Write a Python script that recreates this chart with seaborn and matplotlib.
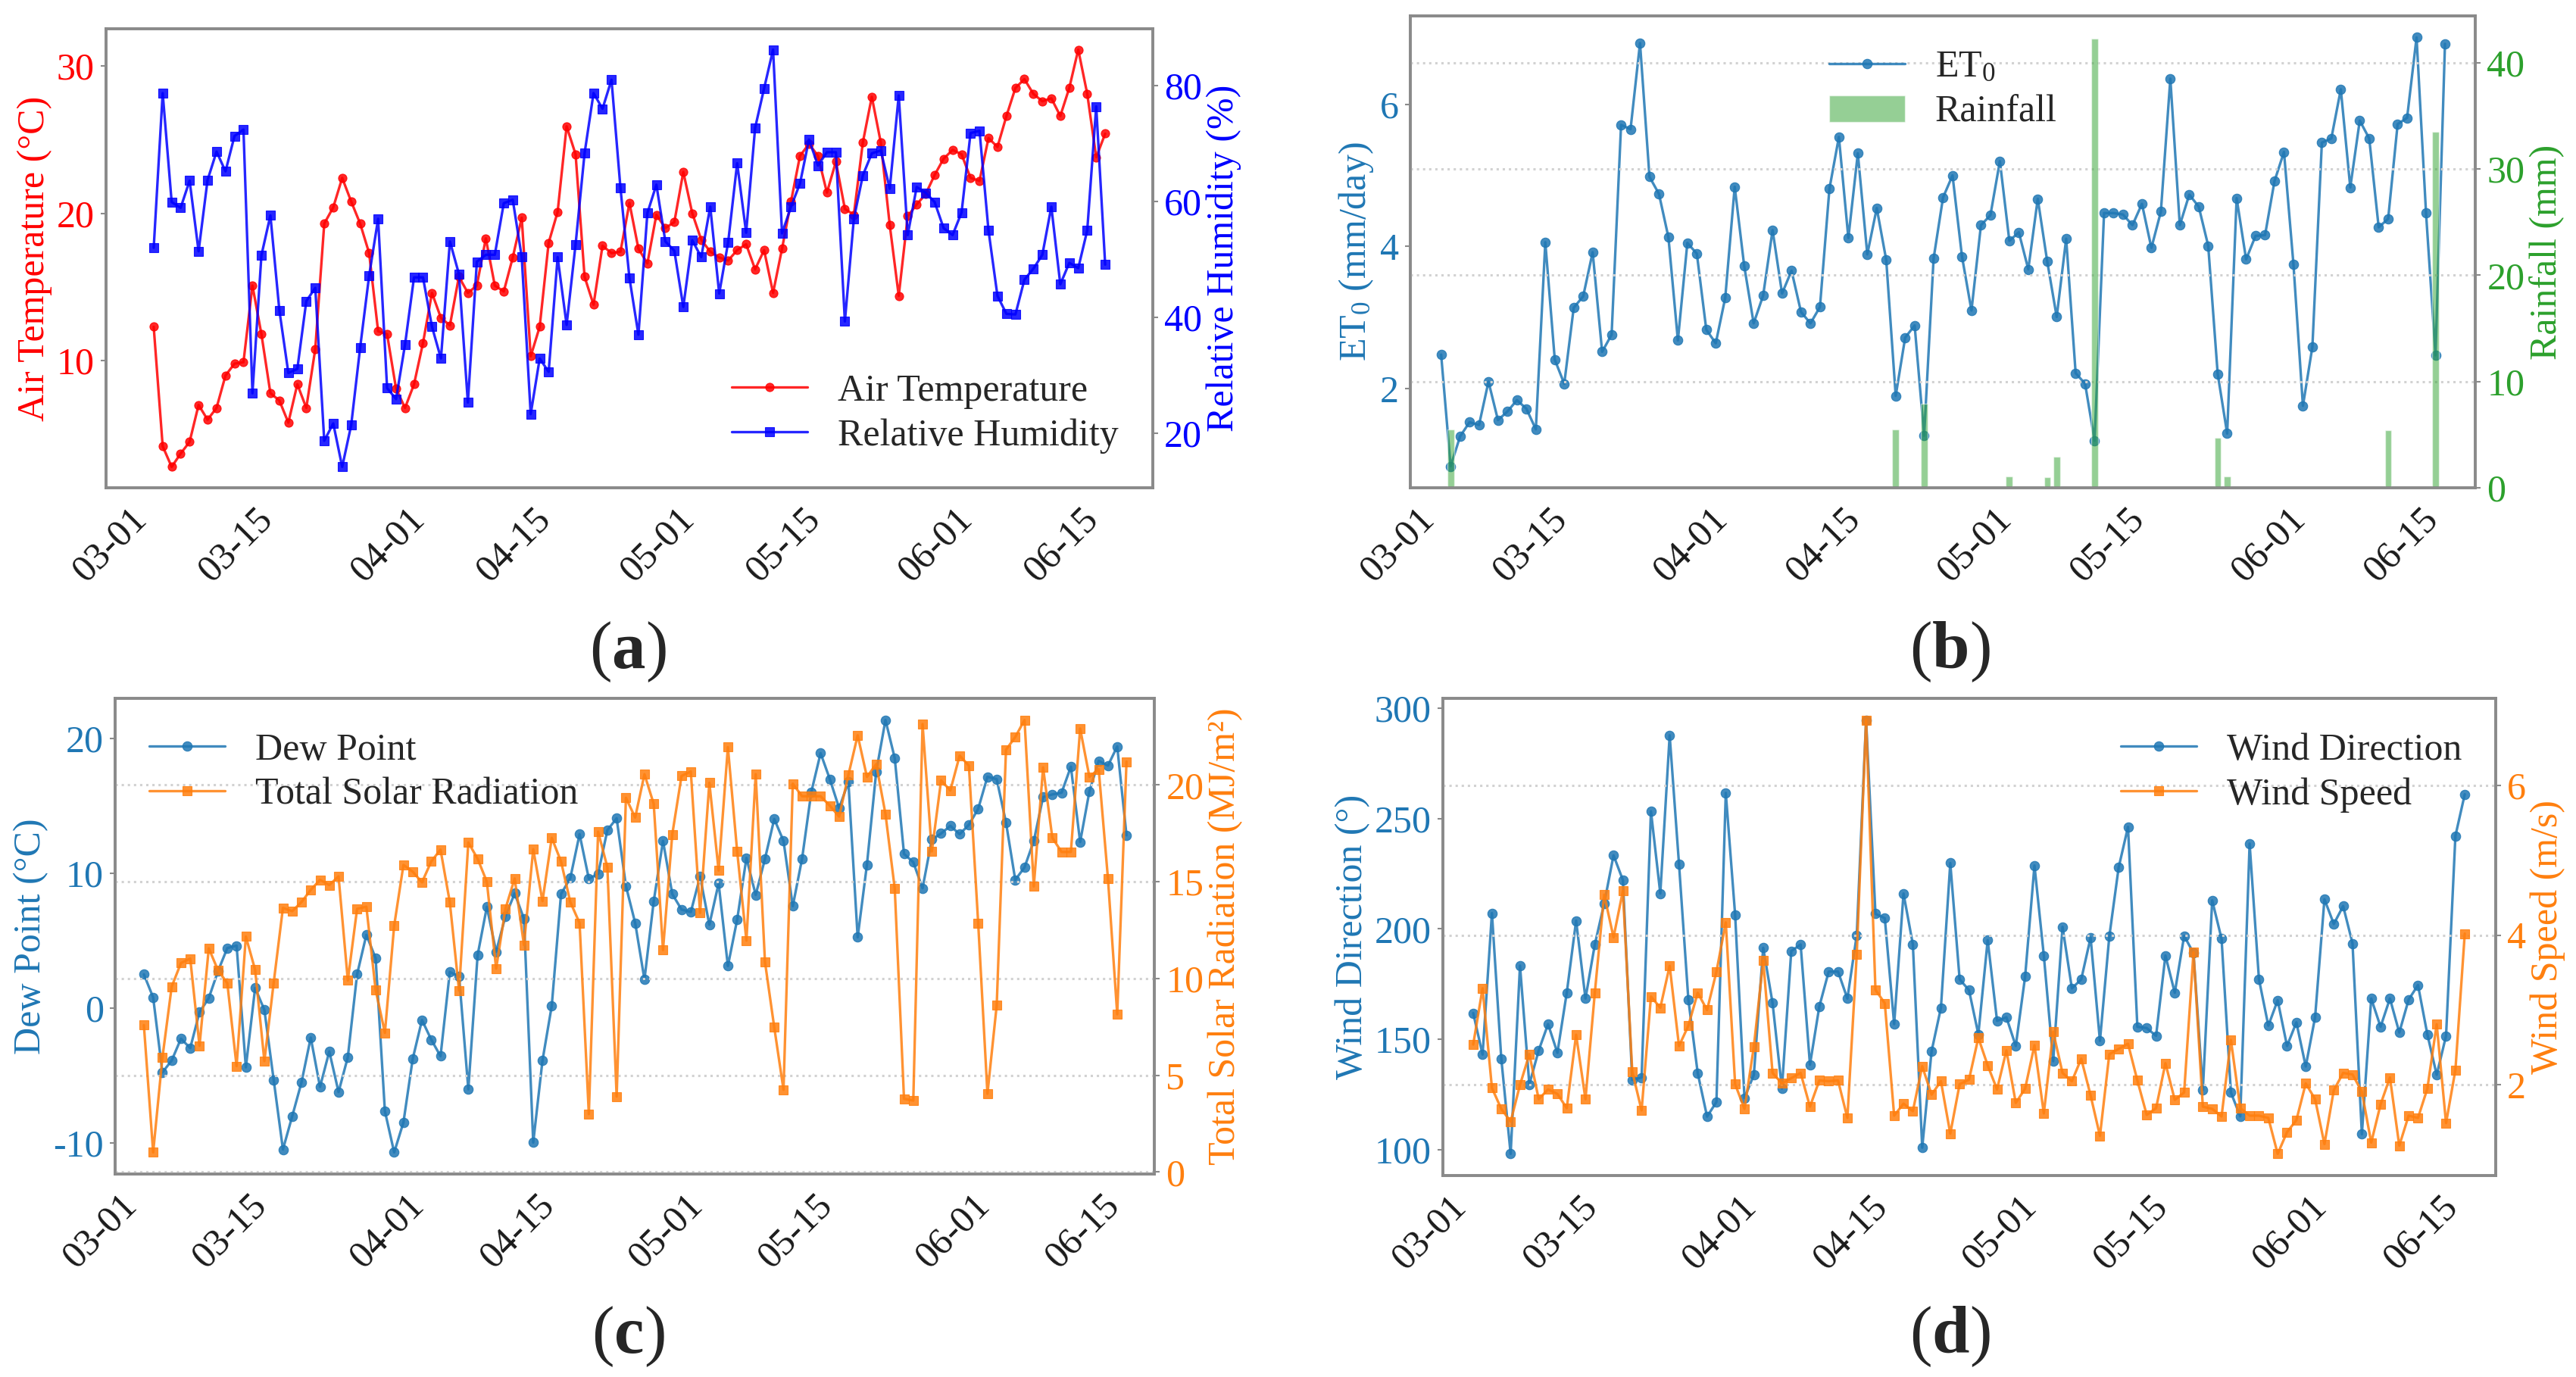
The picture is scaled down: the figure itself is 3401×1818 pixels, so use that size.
import pandas as pd
import seaborn as sns
import matplotlib.pyplot as plt
import matplotlib.dates as mdates
from matplotlib.ticker import MultipleLocator
from matplotlib.patches import Patch

# daily records from 03-01 to 06-15 (107 days)
start_date = "2023-03-01"
n_days = 107

air_temp = [12.3, 4.2, 2.8, 3.7, 4.5, 7.0, 6.0, 6.8, 9.0, 9.8,
            9.9, 15.1, 11.8, 7.8, 7.3, 5.8, 8.4, 6.8, 10.8, 19.3,
            20.4, 22.4, 20.8, 19.3, 17.3, 12.0, 11.8, 8.1, 6.8, 8.4,
            11.2, 14.6, 12.9, 12.4, 15.7, 14.6, 15.1, 18.3, 15.1, 14.7,
            17.0, 19.7, 10.3, 12.3, 18.0, 20.1, 25.9, 24.0, 15.7, 13.8,
            17.8, 17.3, 17.4, 20.7, 17.6, 16.6, 19.9, 19.0, 19.4, 22.8,
            20.0, 18.2, 17.4, 17.0, 16.8, 17.5, 17.9, 16.2, 17.5, 14.6,
            17.6, 20.8, 23.9, 24.7, 23.9, 21.4, 23.5, 20.3, 19.9, 24.8,
            27.9, 24.8, 19.2, 14.4, 19.8, 20.6, 21.3, 22.6, 23.7, 24.3,
            24.0, 22.4, 22.2, 25.1, 24.5, 26.6, 28.5, 29.1, 28.1, 27.6,
            27.8, 26.6, 28.5, 31.1, 28.1, 23.8, 25.4]

rel_hum = [52.0, 78.7, 59.9, 58.9, 63.6, 51.4, 63.7, 68.6, 65.2, 71.3,
           72.4, 26.9, 50.7, 57.6, 41.2, 30.4, 31.1, 42.8, 45.1, 18.7,
           21.7, 14.2, 21.4, 34.8, 47.2, 57.0, 27.8, 25.9, 35.3, 46.9,
           46.9, 38.4, 32.9, 53.1, 47.5, 25.3, 49.6, 50.8, 50.8, 59.7,
           60.3, 50.4, 23.3, 32.9, 30.6, 50.4, 38.7, 52.6, 68.3, 78.7,
           76.0, 81.0, 62.3, 46.8, 37.0, 58.0, 62.9, 53.1, 51.5, 41.8,
           53.3, 50.4, 59.1, 44.1, 53.0, 66.6, 54.6, 72.7, 79.5, 86.2,
           54.5, 59.1, 63.1, 70.7, 66.2, 68.5, 68.5, 39.3, 57.0, 64.5,
           68.3, 68.8, 62.2, 78.3, 54.2, 62.5, 61.5, 59.9, 55.4, 54.2,
           58.1, 71.8, 72.2, 55.0, 43.7, 40.6, 40.5, 46.5, 48.4, 50.8,
           59.1, 45.7, 49.4, 48.5, 55.0, 76.4, 49.1]

et0 = [2.48, 0.91, 1.33, 1.53, 1.49, 2.10, 1.56, 1.68, 1.84, 1.72,
       1.43, 4.06, 2.41, 2.07, 3.14, 3.30, 3.92, 2.52, 2.76, 5.71,
       5.65, 6.86, 4.98, 4.74, 4.13, 2.68, 4.05, 3.90, 2.83, 2.64,
       3.28, 4.84, 3.73, 2.92, 3.31, 4.23, 3.34, 3.66, 3.08, 2.92,
       3.15, 4.81, 5.54, 4.12, 5.31, 3.89, 4.54, 3.81, 1.90, 2.72,
       2.89, 1.34, 3.83, 4.69, 5.00, 3.86, 3.10, 4.30, 4.44, 5.20,
       4.08, 4.20, 3.68, 4.67, 3.79, 3.01, 4.11, 2.22, 2.07, 1.27,
       4.47, 4.47, 4.45, 4.30, 4.60, 3.98, 4.49, 6.36, 4.30, 4.73,
       4.56, 4.01, 2.21, 1.37, 4.68, 3.82, 4.15, 4.16, 4.92, 5.33,
       3.75, 1.76, 2.59, 5.46, 5.52, 6.21, 4.83, 5.77, 5.52, 4.27,
       4.39, 5.72, 5.81, 6.94, 4.47, 2.47, 6.85]

# rainy days (day index from 03-01) and amounts
rain_day = [1, 48, 51, 60, 64, 65, 69, 82, 83, 100, 105]
rain_mm = [5.5, 5.5, 7.9, 1.1, 1.0, 2.9, 42.3, 4.7, 1.1, 5.4, 33.5]

dew_point = [2.51, 0.80, -4.76, -3.88, -2.26, -2.96, -0.30, 0.75, 2.76, 4.46,
             4.64, -4.39, 1.50, -0.13, -5.31, -10.48, -8.02, -5.51, -2.18, -5.84,
             -3.21, -6.22, -3.63, 2.51, 5.44, 3.71, -7.64, -10.70, -8.47, -3.76,
             -0.88, -2.33, -3.56, 2.68, 2.38, -6.02, 3.93, 7.52, 4.19, 6.82,
             8.52, 6.64, -9.97, -3.88, 0.18, 8.47, 9.65, 12.91, 9.60, 9.97,
             13.21, 14.09, 9.07, 6.32, 2.13, 7.94, 12.41, 8.47, 7.32, 7.14,
             9.77, 6.19, 9.27, 3.13, 6.57, 11.15, 8.40, 11.08, 14.04, 12.41,
             7.57, 11.08, 16.04, 18.92, 16.99, 14.84, 16.79, 5.26, 10.65, 17.54,
             21.38, 18.55, 11.45, 10.83, 8.90, 12.53, 12.96, 13.53, 12.91, 13.61,
             14.79, 17.17, 16.99, 13.78, 9.52, 10.45, 12.41, 15.66, 15.86, 15.99,
             17.92, 12.33, 16.09, 18.35, 18.00, 19.42, 12.83]

solar_rad = [7.59, 1.01, 5.91, 9.58, 10.80, 11.03, 6.52, 11.56, 10.42, 9.76,
             5.47, 12.17, 10.45, 5.73, 9.77, 13.65, 13.48, 13.95, 14.58, 15.10,
             14.83, 15.28, 9.90, 13.60, 13.71, 9.41, 7.19, 12.73, 15.87, 15.52,
             14.97, 16.05, 16.66, 13.95, 9.37, 17.03, 16.19, 15.00, 10.51, 13.60,
             15.17, 11.73, 16.68, 14.00, 17.27, 16.05, 13.95, 12.87, 2.99, 17.59,
             15.75, 3.90, 19.34, 18.32, 20.56, 19.02, 11.47, 17.45, 20.47, 20.70,
             13.39, 20.12, 15.58, 21.96, 16.57, 11.96, 20.56, 10.86, 7.48, 4.25,
             20.07, 19.42, 19.42, 19.42, 18.93, 18.37, 20.52, 22.57, 20.42, 21.08,
             18.50, 14.65, 3.78, 3.69, 23.15, 16.57, 20.24, 19.72, 21.52, 21.00,
             12.87, 4.04, 8.62, 21.82, 22.48, 23.36, 14.76, 20.91, 17.27, 16.54,
             16.54, 22.92, 20.42, 20.82, 15.17, 8.15, 21.21]

wind_dir = [161.8, 143.0, 207.1, 141.2, 98.0, 183.3, 129.5, 144.9, 156.8, 143.8,
            171.0, 203.7, 168.4, 192.9, 211.4, 233.3, 222.1, 131.5, 132.6, 253.3,
            216.0, 287.7, 229.3, 167.9, 134.6, 114.9, 121.5, 261.6, 206.3, 123.3,
            133.8, 191.4, 166.4, 127.6, 189.9, 192.9, 138.4, 164.8, 180.6, 180.6,
            168.4, 197.1, 294.6, 206.8, 204.8, 156.8, 216.0, 192.9, 100.8, 144.5,
            164.2, 229.8, 177.1, 172.2, 152.2, 194.9, 158.3, 159.9, 146.9, 178.3,
            228.7, 187.9, 140.0, 200.9, 173.0, 177.1, 196.0, 149.2, 196.5, 227.8,
            246.2, 155.6, 155.0, 151.5, 187.9, 171.0, 196.8, 189.0, 126.9, 212.9,
            195.5, 125.8, 115.0, 238.6, 177.1, 156.1, 167.6, 146.9, 157.6, 137.6,
            159.9, 213.4, 202.2, 210.3, 193.4, 106.9, 168.4, 155.6, 168.4, 153.0,
            167.9, 174.5, 152.2, 133.8, 151.5, 242.1, 261.0]

wind_speed = [2.54, 3.29, 1.96, 1.68, 1.51, 2.00, 2.41, 1.81, 1.94, 1.88,
              1.69, 2.67, 1.81, 3.23, 4.54, 3.97, 4.59, 2.18, 1.66, 3.18,
              3.03, 3.59, 2.52, 2.79, 3.23, 3.00, 3.51, 4.17, 2.01, 1.68,
              2.51, 3.66, 2.16, 2.02, 2.09, 2.16, 1.71, 2.06, 2.05, 2.06,
              1.56, 3.74, 6.87, 3.27, 3.09, 1.59, 1.75, 1.65, 2.25, 1.87,
              2.05, 1.35, 2.01, 2.07, 2.63, 2.26, 1.94, 2.46, 1.76, 1.95,
              2.53, 1.62, 2.71, 2.16, 2.05, 2.35, 1.86, 1.32, 2.41, 2.48,
              2.55, 2.06, 1.60, 1.69, 2.29, 1.80, 1.90, 3.77, 1.71, 1.68,
              1.58, 2.60, 1.69, 1.59, 1.59, 1.56, 1.08, 1.37, 1.53, 2.02,
              1.81, 1.21, 1.93, 2.16, 2.14, 1.91, 1.23, 1.74, 2.10, 1.19,
              1.59, 1.56, 1.95, 2.81, 1.49, 2.20, 4.02]

dates = pd.date_range(start_date, periods=n_days, freq="D")
rain_dates = dates[rain_day]

# style
sns.set_style("white")
serif = ['Liberation Serif', 'DejaVu Serif']
plt.rcParams['font.family'] = serif
plt.rcParams['mathtext.fontset'] = 'custom'
plt.rcParams['mathtext.rm'] = 'Liberation Serif'
plt.rcParams['mathtext.it'] = 'Liberation Serif:italic'
plt.rcParams['mathtext.bf'] = 'Liberation Serif:bold'
plt.rcParams['axes.unicode_minus'] = False
plt.rcParams['font.size'] = 36

spine_color = '#8a8a8a'
line_kw = dict(linewidth=2.4, alpha=0.85, markeredgewidth=0.8, estimator=None)


def draw_line(ax, y, color, marker, label, ms=9):
    sns.lineplot(x=dates, y=y, ax=ax, color=color, marker=marker,
                 markersize=ms, markeredgecolor=color, label=label, **line_kw)
    if ax.get_legend() is not None:
        ax.get_legend().remove()


def style_pair(ax, ax2, lcolor, rcolor, pad_left, pad_right, grid=True):
    ax.set_xlim(dates[0] - pd.Timedelta(days=pad_left),
                dates[-1] + pd.Timedelta(days=pad_right))
    ax.xaxis.set_major_locator(mdates.DayLocator(bymonthday=[1, 15]))
    ax.xaxis.set_major_formatter(mdates.DateFormatter('%m-%d'))
    ax.set_xlabel('')
    ax2.set_xlabel('')
    for a in (ax, ax2):
        for sp in a.spines.values():
            sp.set_color(spine_color)
            sp.set_linewidth(2.6)
    ax.tick_params(axis='x', length=5, width=1.5, color=spine_color,
                   labelcolor='#1a1a1a', labelsize=36, pad=8,
                   labelfontfamily='Liberation Serif')
    ax.tick_params(axis='y', length=5, width=1.5, color=spine_color,
                   labelcolor=lcolor, labelsize=36, pad=6,
                   labelfontfamily='Liberation Serif')
    ax2.tick_params(axis='y', length=5, width=1.5, color=spine_color,
                    labelcolor=rcolor, labelsize=36, pad=6,
                    labelfontfamily='Liberation Serif')
    plt.setp(ax.get_xticklabels(), rotation=45, ha='right')
    if grid:
        ax2.yaxis.grid(True, linestyle=':', color='#d2d2d2', linewidth=2.2)
        ax2.set_axisbelow(True)


fig = plt.figure(figsize=(34.01, 18.18), dpi=100)

# (a) air temperature and relative humidity
ax = fig.add_axes([0.0412, 0.6458, 0.4063, 0.3333])
ax2 = ax.twinx()
draw_line(ax, air_temp, 'red', 'o', 'Air Temperature', ms=8)
draw_line(ax2, rel_hum, 'blue', 's', 'Relative Humidity', ms=8)
ax.set_ylabel('Air Temperature (°C)', color='red', fontsize=36)
ax2.set_ylabel('Relative Humidity (%)', color='blue', fontsize=36)
ax.yaxis.set_major_locator(MultipleLocator(10))
ax2.yaxis.set_major_locator(MultipleLocator(20))
style_pair(ax, ax2, 'red', 'blue', 5.3, 5.3, grid=False)
h1, l1 = ax.get_legend_handles_labels()
h2, l2 = ax2.get_legend_handles_labels()
ax2.legend(h1 + h2, l1 + l2, loc='lower right', frameon=False,
           fontsize=36, labelspacing=0.25)

# (b) ET0 and rainfall
ax = fig.add_axes([0.5475, 0.6458, 0.4134, 0.3426])
ax2 = ax.twinx()
draw_line(ax, et0, 'tab:blue', 'o', r'ET$_{\mathregular{0}}$')
ax2.bar(rain_dates, rain_mm, width=0.7, color='tab:green', alpha=0.5)
ax.set_ylabel(r'ET$_{\mathregular{0}}$ (mm/day)', color='tab:blue', fontsize=36)
ax2.set_ylabel('Rainfall (mm)', color='tab:green', fontsize=36)
ax.yaxis.set_major_locator(MultipleLocator(2))
ax2.yaxis.set_major_locator(MultipleLocator(10))
style_pair(ax, ax2, 'tab:blue', 'tab:green', 3.25, 3.2)
h1, l1 = ax.get_legend_handles_labels()
rain_patch = Patch(facecolor='tab:green', alpha=0.5, label='Rainfall')
ax2.legend(h1 + [rain_patch], l1 + ['Rainfall'], loc='upper center',
           frameon=False, fontsize=36, labelspacing=0.25)

# (c) dew point and solar radiation
ax = fig.add_axes([0.0447, 0.1474, 0.4034, 0.3454])
ax2 = ax.twinx()
draw_line(ax, dew_point, 'tab:blue', 'o', 'Dew Point')
draw_line(ax2, solar_rad, 'tab:orange', 's', 'Total Solar Radiation')
ax.set_ylabel('Dew Point (°C)', color='tab:blue', fontsize=36)
ax2.set_ylabel('Total Solar Radiation (MJ/m²)', color='tab:orange', fontsize=36)
ax.yaxis.set_major_locator(MultipleLocator(10))
ax2.yaxis.set_major_locator(MultipleLocator(5))
style_pair(ax, ax2, 'tab:blue', 'tab:orange', 3.1, 3.0)
h1, l1 = ax.get_legend_handles_labels()
h2, l2 = ax2.get_legend_handles_labels()
ax2.legend(h1 + h2, l1 + l2, loc='upper left', frameon=False,
           fontsize=36, labelspacing=0.25)

# (d) wind direction and wind speed
ax = fig.add_axes([0.5601, 0.1463, 0.4087, 0.3465])
ax2 = ax.twinx()
draw_line(ax, wind_dir, 'tab:blue', 'o', 'Wind Direction')
draw_line(ax2, wind_speed, 'tab:orange', 's', 'Wind Speed')
ax.set_ylabel('Wind Direction (°)', color='tab:blue', fontsize=36)
ax2.set_ylabel('Wind Speed (m/s)', color='tab:orange', fontsize=36)
ax.yaxis.set_major_locator(MultipleLocator(50))
ax2.yaxis.set_major_locator(MultipleLocator(2))
style_pair(ax, ax2, 'tab:blue', 'tab:orange', 3.25, 3.3)
h1, l1 = ax.get_legend_handles_labels()
h2, l2 = ax2.get_legend_handles_labels()
ax2.legend(h1 + h2, l1 + l2, loc='upper right', frameon=False,
           fontsize=36, labelspacing=0.25)

# panel letters
for x, y, letter in [(0.2438, 0.5264, 'a'), (0.7568, 0.5264, 'b'),
                     (0.2438, 0.0292, 'c'), (0.7568, 0.0292, 'd')]:
    fig.text(x, y, r'($\mathbf{' + letter + '}$)', ha='center', va='center',
             fontsize=64)

fig.savefig('out.png', dpi=100, facecolor='white')
